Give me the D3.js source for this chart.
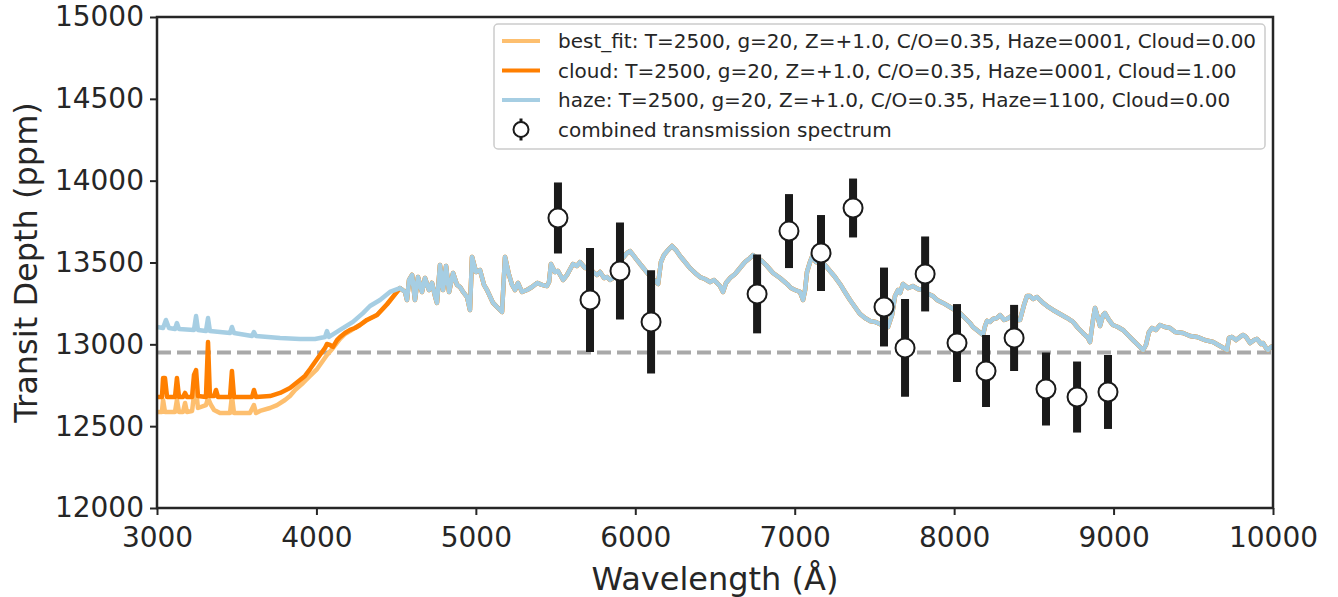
<!DOCTYPE html>
<html>
<head>
<meta charset="utf-8">
<script src="https://cdn.jsdelivr.net/npm/d3@7"></script>
<style>
  body { margin: 0; background: #fff; }
  text { font-family: "DejaVu Sans", sans-serif; fill: #262626; }
</style>
</head>
<body>
<div id="chart"></div>
<script>
// model spectra (wavelength in A, depth in ppm)
// short-wavelength parts differ, above ~4520 A the three models coincide
var hazeWave = [3000,3038,3056,3075,3113,3125,3138,3232,3245,3257,3307,3320,3332,3458,3470,3483,3596,3608,3621,3772,3897,3991,4022,4054,4066,4079,4148,4229,4292,4336,4399,4461];
var hazeDepth = [13106,13100,13149,13100,13094,13130,13094,13088,13173,13088,13081,13161,13081,13069,13106,13069,13051,13075,13051,13039,13033,13033,13039,13045,13081,13045,13088,13137,13191,13234,13271,13320];

var cloudWave = [3000,3031,3038,3050,3063,3113,3125,3138,3163,3176,3188,3220,3232,3245,3257,3307,3320,3332,3358,3370,3383,3458,3470,3483,3596,3608,3621,3709,3772,3834,3897,3928,3960,3991,4022,4054,4066,4085,4104,4129,4148,4179,4211,4242,4273,4317,4380,4443,4480];
var cloudDepth = [12678,12678,12794,12794,12678,12678,12794,12678,12678,12703,12678,12678,12813,12843,12684,12678,13014,12684,12684,12721,12678,12678,12837,12678,12678,12721,12678,12684,12703,12733,12782,12807,12849,12892,12935,12978,13002,12996,12984,13026,13045,13069,13088,13100,13118,13149,13179,13245,13290];

var bestWave = [3000,3031,3038,3050,3113,3125,3138,3163,3176,3188,3220,3232,3245,3257,3307,3320,3339,3358,3395,3458,3470,3483,3583,3608,3621,3646,3709,3753,3803,3834,3866,3916,3960,4004,4035,4066,4104,4148,4179,4211,4242,4273,4317,4380,4443,4480];
var bestDepth = [12587,12587,12660,12587,12587,12660,12587,12587,12642,12587,12593,12690,12721,12611,12629,12672,12629,12599,12580,12580,12684,12580,12580,12629,12580,12593,12611,12629,12660,12684,12721,12764,12807,12849,12892,12935,12978,13033,13063,13081,13100,13118,13149,13179,13245,13290];

var sharedWave = [4524,4556,4568,4581,4600,4618,4637,4662,4681,4706,4725,4744,4756,4775,4794,4813,4832,4857,4882,4901,4920,4945,4963,4976,5001,5026,5051,5070,5108,5151,5164,5183,5208,5227,5246,5264,5289,5321,5352,5384,5415,5446,5459,5471,5496,5515,5547,5572,5609,5634,5653,5685,5716,5735,5760,5779,5804,5823,5842,5860,5879,5898,5923,5948,5967,5986,6011,6030,6061,6080,6105,6130,6143,6161,6180,6205,6230,6255,6281,6312,6343,6375,6406,6437,6469,6494,6513,6531,6550,6569,6594,6626,6657,6688,6720,6738,6763,6795,6826,6864,6908,6952,6977,7002,7033,7052,7065,7077,7096,7108,7134,7159,7190,7221,7253,7284,7315,7347,7378,7410,7441,7472,7504,7535,7566,7585,7610,7629,7648,7661,7679,7711,7742,7773,7805,7836,7867,7893,7930,7974,8005,8037,8068,8100,8118,8150,8181,8194,8206,8225,8244,8269,8288,8313,8332,8351,8369,8394,8413,8438,8457,8476,8495,8520,8551,8583,8620,8664,8708,8746,8777,8808,8840,8852,8871,8884,8902,8915,8934,8946,8971,8996,9027,9059,9090,9122,9153,9185,9203,9222,9241,9266,9291,9323,9354,9386,9436,9480,9523,9574,9624,9668,9712,9724,9743,9768,9793,9812,9831,9856,9881,9900,9925,9937,9956,9969,9987,10000];
var sharedDepth = [13344,13320,13271,13393,13424,13271,13411,13320,13405,13332,13375,13295,13253,13485,13332,13479,13320,13436,13363,13350,13320,13289,13210,13534,13442,13454,13363,13332,13253,13210,13198,13534,13424,13363,13332,13375,13320,13332,13350,13375,13363,13356,13381,13491,13442,13448,13393,13424,13491,13479,13503,13466,13466,13442,13424,13442,13405,13411,13393,13405,13454,13503,13528,13558,13570,13546,13515,13491,13454,13430,13405,13381,13369,13503,13546,13576,13601,13576,13540,13503,13466,13436,13411,13399,13381,13393,13375,13356,13320,13375,13405,13430,13466,13503,13528,13546,13528,13509,13479,13436,13405,13369,13344,13332,13320,13271,13332,13442,13503,13534,13503,13497,13485,13448,13411,13369,13320,13271,13228,13185,13161,13143,13137,13124,13112,13106,13179,13295,13332,13314,13369,13344,13356,13338,13332,13308,13295,13271,13253,13228,13210,13191,13161,13130,13106,13081,13057,13112,13143,13137,13155,13161,13179,13149,13155,13167,13173,13149,13149,13240,13295,13295,13277,13289,13259,13234,13210,13185,13161,13137,13100,13069,13039,13014,13149,13222,13161,13112,13179,13191,13149,13118,13106,13088,13057,13026,12996,12965,12996,13075,13100,13088,13118,13106,13100,13075,13069,13051,13045,13026,13014,12990,12965,13039,13045,13026,13045,13057,13045,13008,13026,13033,13002,13008,12978,12965,12984,12990];

// combined transmission spectrum
var obsWave = [5515,5716,5904,6099,6764,6964,7165,7366,7560,7692,7818,8018,8200,8376,8576,8771,8965];
var obsDepth = [13772,13271,13448,13137,13308,13692,13558,13833,13228,12978,13430,13008,12837,13039,12727,12678,12709];
var obsErr = [217,318,296,315,241,226,232,180,241,299,229,238,220,202,223,217,226];

var flatDepth = 12950;

var xTicks = [3000,4000,5000,6000,7000,8000,9000,10000];
var yTicks = [12000,12500,13000,13500,14000,14500,15000];

var modelNames = ["best_fit", "cloud", "haze"];
var modelLabels = [
  "best_fit: T=2500, g=20, Z=+1.0, C/O=0.35, Haze=0001, Cloud=0.00",
  "cloud: T=2500, g=20, Z=+1.0, C/O=0.35, Haze=0001, Cloud=1.00",
  "haze: T=2500, g=20, Z=+1.0, C/O=0.35, Haze=1100, Cloud=0.00"
];
var obsLabel = "combined transmission spectrum";

var colors = { best_fit: "#fdbf6f", cloud: "#ff7f00", haze: "#a6cee3" };

var margin = { top: 17, right: 65, bottom: 89, left: 157 },
  width = 1338 - margin.left - margin.right,
  height = 597 - margin.top - margin.bottom;

var svg = d3.select("#chart").append("svg")
    .attr("width", 1338)
    .attr("height", 597)
  .append("g")
    .attr("transform", "translate(" + margin.left + "," + margin.top + ")");

var x = d3.scaleLinear().domain([3000, 10000]).range([0, width]);
var y = d3.scaleLinear().domain([12000, 15000]).range([height, 0]);

function toPoints(w, f) {
  return w.map(function (d, i) { return [d, f[i]]; });
}

var series = {
  best_fit: toPoints(bestWave, bestDepth).concat(toPoints(sharedWave, sharedDepth)),
  cloud: toPoints(cloudWave, cloudDepth).concat(toPoints(sharedWave, sharedDepth)),
  haze: toPoints(hazeWave, hazeDepth).concat(toPoints(sharedWave, sharedDepth))
};

var line = d3.line()
    .x(function (d) { return x(d[0]); })
    .y(function (d) { return y(d[1]); });

var plot = svg.append("g");

// flat reference level
plot.append("line")
    .attr("x1", x(3000)).attr("x2", x(10000))
    .attr("y1", y(flatDepth)).attr("y2", y(flatDepth))
    .style("stroke", "#a9a9a9")
    .style("stroke-width", 4)
    .style("stroke-dasharray", "14,6");

modelNames.forEach(function (name) {
  plot.append("path")
      .datum(series[name])
      .attr("d", line)
      .style("fill", "none")
      .style("stroke", colors[name])
      .style("stroke-width", 4.5)
      .style("stroke-linejoin", "round");
});

var obs = obsWave.map(function (d, i) { return { w: d, f: obsDepth[i], e: obsErr[i] }; });

plot.selectAll(".errbar")
    .data(obs)
    .enter().append("line")
    .attr("class", "errbar")
    .attr("x1", function (d) { return x(d.w); })
    .attr("x2", function (d) { return x(d.w); })
    .attr("y1", function (d) { return y(d.f - d.e); })
    .attr("y2", function (d) { return y(d.f + d.e); })
    .style("stroke", "#1a1a1a")
    .style("stroke-width", 8);

plot.selectAll(".obs")
    .data(obs)
    .enter().append("circle")
    .attr("class", "obs")
    .attr("cx", function (d) { return x(d.w); })
    .attr("cy", function (d) { return y(d.f); })
    .attr("r", 9.5)
    .style("fill", "#fff")
    .style("stroke", "#1a1a1a")
    .style("stroke-width", 2);

// axes
var yAxis = svg.append("g")
    .call(d3.axisLeft(y).tickValues(yTicks).tickSize(7).tickSizeOuter(0).tickPadding(6).tickFormat(d3.format("d")));
var xAxis = svg.append("g")
    .attr("transform", "translate(0," + height + ")")
    .call(d3.axisBottom(x).tickValues(xTicks).tickSize(7).tickSizeOuter(0).tickPadding(12).tickFormat(d3.format("d")));

[xAxis, yAxis].forEach(function (ax) {
  ax.select(".domain").remove();
  ax.selectAll(".tick line").style("stroke", "#262626").style("stroke-width", 2);
  ax.selectAll(".tick text").style("font-size", "28px").style("fill", "#262626")
    .style("font-family", "'DejaVu Sans', sans-serif");
});

// frame
svg.append("rect")
    .attr("width", width)
    .attr("height", height)
    .style("fill", "none")
    .style("stroke", "#262626")
    .style("stroke-width", 2.5);

svg.append("text")
    .attr("x", width / 2)
    .attr("y", height + 82)
    .style("text-anchor", "middle")
    .style("font-size", "32px")
    .text("Wavelength (\u00c5)");

svg.append("text")
    .attr("transform", "translate(" + (37 - margin.left) + "," + (height / 2) + ") rotate(-90)")
    .style("text-anchor", "middle")
    .style("font-size", "32px")
    .text("Transit Depth (ppm)");

// legend
var legendWidth = 771, legendHeight = 125, rowGap = 29.5;
var legend = svg.append("g")
    .attr("transform", "translate(" + (width - 8 - legendWidth) + ",7)");

legend.append("rect")
    .attr("width", legendWidth)
    .attr("height", legendHeight)
    .attr("rx", 4)
    .style("fill", "#fff")
    .style("fill-opacity", 0.8)
    .style("stroke", "#cccccc")
    .style("stroke-width", 1.5);

var rows = legend.selectAll(".legend")
    .data(modelNames)
    .enter().append("g")
    .attr("class", "legend")
    .attr("transform", function (d, i) { return "translate(0," + (17 + i * rowGap) + ")"; });

rows.append("line")
    .attr("x1", 8).attr("x2", 46)
    .style("stroke", function (d) { return colors[d]; })
    .style("stroke-width", 4);

rows.append("text")
    .attr("x", 64)
    .attr("dy", "0.35em")
    .style("font-size", "20px")
    .text(function (d, i) { return modelLabels[i]; });

var obsRow = legend.append("g")
    .attr("transform", "translate(0," + (17 + 3 * rowGap) + ")");
obsRow.append("line")
    .attr("x1", 27).attr("x2", 27)
    .attr("y1", -11).attr("y2", 11)
    .style("stroke", "#1a1a1a")
    .style("stroke-width", 3);
obsRow.append("circle")
    .attr("cx", 27)
    .attr("r", 7.5)
    .style("fill", "#fff")
    .style("stroke", "#1a1a1a")
    .style("stroke-width", 2);
obsRow.append("text")
    .attr("x", 64)
    .attr("dy", "0.35em")
    .style("font-size", "20px")
    .text(obsLabel);
</script>
</body>
</html>
